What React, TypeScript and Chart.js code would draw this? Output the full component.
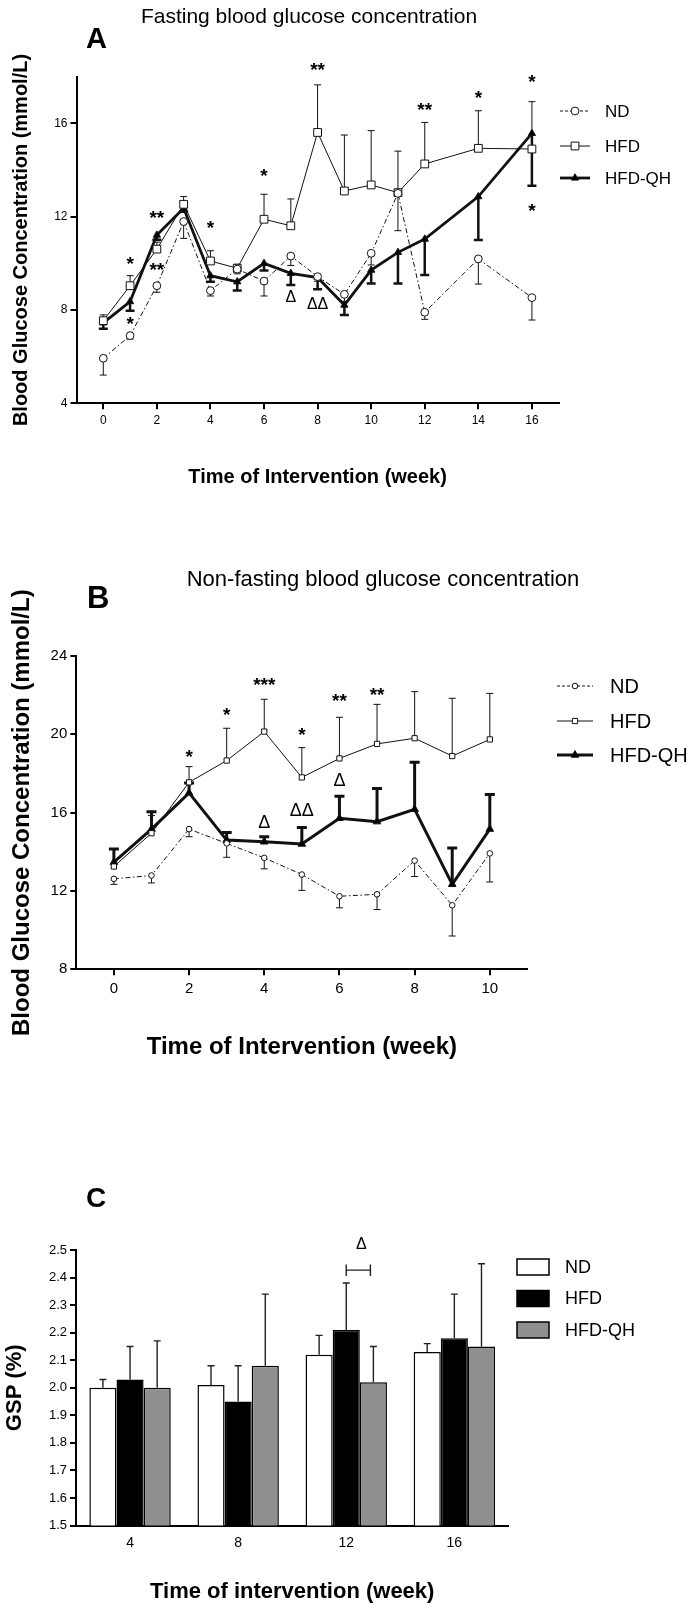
import React, { useEffect, useRef } from 'react';
import { Chart, registerables } from 'chart.js';

Chart.register(...registerables);

const FONT = "'Liberation Sans', Arial, Helvetica, sans-serif";

// ---------------- Panel A: fasting blood glucose ----------------
const A_WEEKS = [0, 1, 2, 3, 4, 5, 6, 7, 8, 9, 10, 11, 12, 14, 16];
const A_ND = [5.93, 6.9, 9.04, 11.79, 8.83, 9.75, 9.24, 10.31, 9.43, 8.67, 10.43, 13.0, 7.9, 10.19, 8.53];
const A_ND_ERR = [0.72, 0.15, 0.28, 0.72, 0.23, 0.2, 0.64, 0.4, 0.2, 0.3, 0.5, 1.6, 0.3, 1.08, 0.96];
const A_HFD = [7.54, 9.04, 10.61, 12.53, 10.1, 9.79, 11.89, 11.61, 15.61, 13.1, 13.36, 13.03, 14.26, 14.93, 14.9];
const A_HFD_ERR = [0.25, 0.43, 0.3, 0.33, 0.44, 0.17, 1.07, 1.15, 2.04, 2.4, 2.33, 1.78, 1.78, 1.61, 2.03];
const A_QH = [7.45, 8.36, 11.21, 12.36, 9.47, 9.21, 10.0, 9.57, 9.39, 8.21, 9.71, 10.47, 11.04, 12.86, 15.57];
const A_QH_ERR = [0.25, 0.39, 0.2, 0.15, 0.26, 0.38, 0.31, 0.5, 0.5, 0.42, 0.57, 1.33, 1.54, 1.86, 2.24];
const A_X_TICKS = [0, 2, 4, 6, 8, 10, 12, 14, 16];
const A_Y_TICKS = [4, 8, 12, 16];
const A_MARKS = [
  { x: 1, y: 10.18, t: '*' }, { x: 1, y: 7.61, t: '*' },
  { x: 2, y: 12.16, t: '**' }, { x: 2, y: 9.93, t: '**' },
  { x: 4, y: 11.74, t: '*' }, { x: 6, y: 13.93, t: '*' },
  { x: 8, y: 18.5, t: '**' }, { x: 12, y: 16.78, t: '**' },
  { x: 14, y: 17.31, t: '*' }, { x: 16, y: 17.97, t: '*' }, { x: 16, y: 12.43, t: '*' },
  { x: 7, y: 8.57, t: 'Δ' }, { x: 8, y: 8.3, t: 'ΔΔ' },
];

// ---------------- Panel B: non-fasting blood glucose ----------------
const B_WEEKS = [0, 1, 2, 3, 4, 5, 6, 7, 8, 9, 10];
const B_ND = [12.62, 12.79, 15.16, 14.43, 13.69, 12.84, 11.73, 11.83, 13.55, 11.27, 13.92];
const B_ND_ERR = [0.28, 0.38, 0.39, 0.71, 0.56, 0.81, 0.59, 0.78, 0.81, 1.57, 1.46];
const B_HFD = [13.25, 14.95, 17.55, 18.66, 20.14, 17.8, 18.77, 19.51, 19.8, 18.89, 19.74];
const B_HFD_ERR = [0.89, 0.9, 0.8, 1.65, 1.65, 1.52, 2.1, 2.02, 2.38, 2.95, 2.35];
const B_QH = [13.47, 15.16, 17.01, 14.6, 14.51, 14.4, 15.71, 15.54, 16.17, 12.34, 15.16];
const B_QH_ERR = [0.67, 0.89, 0.5, 0.39, 0.26, 0.84, 1.13, 1.69, 2.4, 1.85, 1.77];
const B_X_TICKS = [0, 2, 4, 6, 8, 10];
const B_Y_TICKS = [8, 12, 16, 20, 24];
const B_MARKS = [
  { x: 2, y: 19.11, t: '*' }, { x: 3, y: 21.24, t: '*' }, { x: 4, y: 22.77, t: '***' },
  { x: 5, y: 20.22, t: '*' }, { x: 6, y: 21.96, t: '**' }, { x: 7, y: 22.26, t: '**' },
  { x: 4, y: 15.54, t: 'Δ' }, { x: 5, y: 16.17, t: 'ΔΔ' }, { x: 6, y: 17.67, t: 'Δ' },
];

// ---------------- Panel C: GSP ----------------
const C_CATS = ['4', '8', '12', '16'];
const C_ND = [2.0, 2.01, 2.12, 2.13];
const C_ND_ERR = [0.03, 0.07, 0.07, 0.03];
const C_HFD = [2.03, 1.95, 2.21, 2.18];
const C_HFD_ERR = [0.12, 0.13, 0.17, 0.16];
const C_QH = [2.0, 2.08, 2.02, 2.15];
const C_QH_ERR = [0.17, 0.26, 0.13, 0.3];
const C_Y_TICKS = [1.5, 1.6, 1.7, 1.8, 1.9, 2.0, 2.1, 2.2, 2.3, 2.4, 2.5];
const C_BRACKET = { cat: 2, y: 2.427, deltaY: 2.524 };

const W = 692;
const INK = '#111';

function font(size: number, bold = false) {
  return `${bold ? 'bold ' : ''}${size}px ${FONT}`;
}

function drawMarker(ctx: CanvasRenderingContext2D, kind: string, x: number, y: number, r: number, fill: string) {
  ctx.save();
  ctx.setLineDash([]);
  ctx.beginPath();
  if (kind === 'circle') ctx.arc(x, y, r, 0, Math.PI * 2);
  else if (kind === 'rect') {
    const s = r * Math.SQRT1_2;
    ctx.rect(x - s, y - s, 2 * s, 2 * s);
  } else {
    let a = 0;
    ctx.moveTo(x + Math.sin(a) * r, y - Math.cos(a) * r);
    a += (2 * Math.PI) / 3;
    ctx.lineTo(x + Math.sin(a) * r, y - Math.cos(a) * r);
    a += (2 * Math.PI) / 3;
    ctx.lineTo(x + Math.sin(a) * r, y - Math.cos(a) * r);
    ctx.closePath();
  }
  ctx.fillStyle = fill;
  ctx.fill();
  ctx.lineWidth = 1;
  ctx.strokeStyle = INK;
  ctx.stroke();
  ctx.restore();
}

function drawMarkText(ctx: CanvasRenderingContext2D, t: string, x: number, y: number, starSize: number, deltaSize: number) {
  ctx.save();
  ctx.fillStyle = '#000';
  ctx.textAlign = 'center';
  ctx.textBaseline = 'alphabetic';
  if (t.includes('*')) {
    ctx.font = font(starSize, true);
    ctx.fillText(t, x, y + 0.57 * starSize);
  } else {
    ctx.font = font(deltaSize);
    ctx.fillText(t, x, y + 0.36 * deltaSize);
  }
  ctx.restore();
}

type SeriesSpec = {
  label: string; values: number[]; errs: number[]; dir: number;
  lineWidth: number; dash: number[]; point: string; radius: number; fill: string;
  errWidth: number; cap: number;
};

type LineSpec = {
  height: number; area: { left: number; right: number; top: number; bottom: number };
  xAxisH: number; weeks: number[]; xMin: number; xMax: number; xTicks: number[];
  yMin: number; yMax: number; yTicks: number[];
  series: SeriesSpec[];
  xTickSize: number; xTickPad: number; yTickSize: number;
  xTitleSize: number; xTitlePadB: number; yTitleSize: number; yTitlePadT: number;
  title: { text: string; x: number; y: number; size: number };
  panel: { text: string; x: number; y: number; size: number };
  marks: { x: number; y: number; t: string }[];
  starSize: number; deltaSize: number;
  legend: { x1: number; x2: number; textX: number; rows: number[]; size: number };
};

function lineConfig(p: LineSpec): any {
  const datasets = p.series.map((s) => ({
    label: s.label,
    data: p.weeks.map((w, i) => ({ x: w, y: s.values[i] })),
    borderColor: INK,
    borderWidth: s.lineWidth,
    borderDash: s.dash,
    pointStyle: s.point,
    pointRadius: s.radius,
    pointBackgroundColor: s.fill,
    pointBorderColor: INK,
    pointBorderWidth: 1,
    tension: 0,
    fill: false,
  }));

  const plugin = {
    id: 'lineExtras',
    beforeDatasetsDraw(chart: any) {
      const ctx = chart.ctx as CanvasRenderingContext2D;
      const xs = chart.scales.x;
      const ys = chart.scales.y;
      p.series.forEach((s) => {
        ctx.save();
        ctx.strokeStyle = INK;
        ctx.lineWidth = s.errWidth;
        ctx.setLineDash([]);
        p.weeks.forEach((w, i) => {
          const e = s.errs[i];
          if (!e) return;
          const x = xs.getPixelForValue(w);
          const y0 = ys.getPixelForValue(s.values[i]);
          const y1 = ys.getPixelForValue(s.values[i] + s.dir * e);
          ctx.beginPath();
          ctx.moveTo(x, y0);
          ctx.lineTo(x, y1);
          ctx.moveTo(x - s.cap / 2, y1);
          ctx.lineTo(x + s.cap / 2, y1);
          ctx.stroke();
        });
        ctx.restore();
      });
    },
    afterDraw(chart: any) {
      const ctx = chart.ctx as CanvasRenderingContext2D;
      const xs = chart.scales.x;
      const ys = chart.scales.y;
      p.marks.forEach((m) => {
        drawMarkText(ctx, m.t, xs.getPixelForValue(m.x), ys.getPixelForValue(m.y), p.starSize, p.deltaSize);
      });
      // titles
      ctx.save();
      ctx.fillStyle = '#000';
      ctx.textBaseline = 'alphabetic';
      ctx.textAlign = 'center';
      ctx.font = font(p.title.size);
      ctx.fillText(p.title.text, p.title.x, p.title.y);
      ctx.textAlign = 'left';
      ctx.font = font(p.panel.size, true);
      ctx.fillText(p.panel.text, p.panel.x, p.panel.y);
      ctx.restore();
      // legend
      p.series.forEach((s, i) => {
        const y = p.legend.rows[i];
        ctx.save();
        ctx.strokeStyle = INK;
        ctx.lineWidth = s.lineWidth;
        ctx.setLineDash(s.dash.length ? [3, 2] : []);
        ctx.beginPath();
        ctx.moveTo(p.legend.x1, y);
        ctx.lineTo(p.legend.x2, y);
        ctx.stroke();
        ctx.restore();
        drawMarker(ctx, s.point, (p.legend.x1 + p.legend.x2) / 2, y, s.radius, s.fill);
        ctx.save();
        ctx.fillStyle = '#000';
        ctx.font = font(p.legend.size);
        ctx.textAlign = 'left';
        ctx.textBaseline = 'middle';
        ctx.fillText(s.label, p.legend.textX, y + 1);
        ctx.restore();
      });
    },
  };

  const axisCommon = {
    grid: { display: true, drawOnChartArea: false, drawTicks: true, tickLength: 6, color: '#000', lineWidth: 2 },
    border: { display: true, color: '#000', width: 2 },
  };

  return {
    type: 'line',
    data: { datasets },
    plugins: [plugin],
    options: {
      responsive: false,
      animation: false,
      devicePixelRatio: 1,
      events: [],
      layout: {
        padding: {
          left: 0,
          right: W - p.area.right,
          top: p.area.top,
          bottom: p.height - p.area.bottom - p.xAxisH,
        },
      },
      plugins: { legend: { display: false }, tooltip: { enabled: false } },
      scales: {
        x: {
          type: 'linear',
          min: p.xMin,
          max: p.xMax,
          afterBuildTicks: (s: any) => { s.ticks = p.xTicks.map((v) => ({ value: v })); },
          afterFit: (s: any) => { s.height = p.xAxisH; },
          ...axisCommon,
          ticks: {
            color: '#000', autoSkip: false, maxRotation: 0,
            font: { family: FONT, size: p.xTickSize, lineHeight: 1.2 },
            padding: p.xTickPad,
            callback: (v: any) => String(v),
          },
          title: {
            display: true, text: 'Time of Intervention (week)', color: '#000',
            font: { family: FONT, size: p.xTitleSize, weight: 'bold', lineHeight: 1.2 },
            padding: { top: 0, bottom: p.xTitlePadB },
          },
        },
        y: {
          type: 'linear',
          min: p.yMin,
          max: p.yMax,
          afterBuildTicks: (s: any) => { s.ticks = p.yTicks.map((v) => ({ value: v })); },
          afterFit: (s: any) => { s.width = p.area.left; },
          ...axisCommon,
          ticks: {
            color: '#000', autoSkip: false,
            font: { family: FONT, size: p.yTickSize, lineHeight: 1.2 },
            padding: 3,
            callback: (v: any) => String(v),
          },
          title: {
            display: true, text: 'Blood Glucose Concentration (mmol/L)', color: '#000',
            font: { family: FONT, size: p.yTitleSize, weight: 'bold', lineHeight: 1.2 },
            padding: { top: p.yTitlePadT, bottom: 0 },
          },
        },
      },
    },
  };
}

function seriesA(): SeriesSpec[] {
  return [
    { label: 'ND', values: A_ND, errs: A_ND_ERR, dir: -1, lineWidth: 1, dash: [5, 2.5, 1.5, 2.5], point: 'circle', radius: 3.9, fill: '#fff', errWidth: 1, cap: 7 },
    { label: 'HFD', values: A_HFD, errs: A_HFD_ERR, dir: 1, lineWidth: 1, dash: [], point: 'rect', radius: 5.5, fill: '#fff', errWidth: 1, cap: 7 },
    { label: 'HFD-QH', values: A_QH, errs: A_QH_ERR, dir: -1, lineWidth: 2.8, dash: [], point: 'triangle', radius: 4.2, fill: '#000', errWidth: 2.5, cap: 9 },
  ];
}

function seriesB(): SeriesSpec[] {
  return [
    { label: 'ND', values: B_ND, errs: B_ND_ERR, dir: -1, lineWidth: 1, dash: [5, 2.5, 1.5, 2.5], point: 'circle', radius: 2.8, fill: '#fff', errWidth: 1, cap: 7 },
    { label: 'HFD', values: B_HFD, errs: B_HFD_ERR, dir: 1, lineWidth: 1, dash: [], point: 'rect', radius: 3.7, fill: '#fff', errWidth: 1, cap: 7 },
    { label: 'HFD-QH', values: B_QH, errs: B_QH_ERR, dir: 1, lineWidth: 3, dash: [], point: 'triangle', radius: 4.4, fill: '#000', errWidth: 3, cap: 10 },
  ];
}

function configA() {
  return lineConfig({
    height: 500,
    area: { left: 76.5, right: 558.7, top: 76.7, bottom: 403.3 },
    xAxisH: 90, weeks: A_WEEKS, xMin: -1, xMax: 17, xTicks: A_X_TICKS,
    yMin: 4, yMax: 18, yTicks: A_Y_TICKS,
    series: seriesA(),
    xTickSize: 12, xTickPad: 4.5, yTickSize: 12,
    xTitleSize: 20, xTitlePadB: 4.3, yTitleSize: 20, yTitlePadT: 9,
    title: { text: 'Fasting blood glucose concentration', x: 309, y: 23, size: 21 },
    panel: { text: 'A', x: 86, y: 48, size: 29 },
    marks: A_MARKS, starSize: 19, deltaSize: 16,
    legend: { x1: 560, x2: 590, textX: 605, rows: [111, 146, 178], size: 17 },
  });
}

function configB() {
  return lineConfig({
    height: 570,
    area: { left: 76.3, right: 527.4, top: 156, bottom: 469.3 },
    xAxisH: 96, weeks: B_WEEKS, xMin: -1, xMax: 11, xTicks: B_X_TICKS,
    yMin: 8, yMax: 24, yTicks: B_Y_TICKS,
    series: seriesB(),
    xTickSize: 15, xTickPad: 5, yTickSize: 15,
    xTitleSize: 24, xTitlePadB: 3.9, yTitleSize: 24, yTitlePadT: 8,
    title: { text: 'Non-fasting blood glucose concentration', x: 383, y: 86, size: 22 },
    panel: { text: 'B', x: 87, y: 108, size: 31 },
    marks: B_MARKS, starSize: 19, deltaSize: 18,
    legend: { x1: 557, x2: 593, textX: 610, rows: [186, 221, 255], size: 20 },
  });
}

function configC(): any {
  const plugin = {
    id: 'barExtras',
    afterDatasetsDraw(chart: any) {
      const ctx = chart.ctx as CanvasRenderingContext2D;
      const ys = chart.scales.y;
      const errSets = [C_ND_ERR, C_HFD_ERR, C_QH_ERR];
      const valSets = [C_ND, C_HFD, C_QH];
      ctx.save();
      ctx.strokeStyle = '#222';
      ctx.lineWidth = 1.4;
      errSets.forEach((errs, di) => {
        const meta = chart.getDatasetMeta(di);
        meta.data.forEach((bar: any, i: number) => {
          const x = bar.x;
          const y0 = ys.getPixelForValue(valSets[di][i]);
          const y1 = ys.getPixelForValue(valSets[di][i] + errs[i]);
          ctx.beginPath();
          ctx.moveTo(x, y0);
          ctx.lineTo(x, y1);
          ctx.moveTo(x - 3.5, y1);
          ctx.lineTo(x + 3.5, y1);
          ctx.stroke();
        });
      });
      // bracket
      const xa = chart.getDatasetMeta(1).data[C_BRACKET.cat].x;
      const xb = chart.getDatasetMeta(2).data[C_BRACKET.cat].x - 3;
      const yb = ys.getPixelForValue(C_BRACKET.y);
      ctx.beginPath();
      ctx.moveTo(xa, yb); ctx.lineTo(xb, yb);
      ctx.moveTo(xa, yb - 5.5); ctx.lineTo(xa, yb + 6);
      ctx.moveTo(xb, yb - 5.5); ctx.lineTo(xb, yb + 6);
      ctx.stroke();
      ctx.restore();
      drawMarkText(ctx, 'Δ', (xa + xb) / 2 + 3, ys.getPixelForValue(C_BRACKET.deltaY), 18, 16);
    },
    afterDraw(chart: any) {
      const ctx = chart.ctx as CanvasRenderingContext2D;
      ctx.save();
      ctx.fillStyle = '#000';
      ctx.textAlign = 'left';
      ctx.textBaseline = 'alphabetic';
      ctx.font = font(28, true);
      ctx.fillText('C', 86, 137);
      const rows = [197, 228.5, 260];
      const fills = ['#fff', '#000', '#8f8f8f'];
      chart.data.datasets.forEach((ds: any, i: number) => {
        ctx.fillStyle = fills[i];
        ctx.fillRect(517, rows[i] - 8, 32, 16);
        ctx.strokeStyle = '#000';
        ctx.lineWidth = 1.5;
        ctx.strokeRect(517, rows[i] - 8, 32, 16);
        ctx.fillStyle = '#000';
        ctx.font = font(18);
        ctx.textBaseline = 'middle';
        ctx.fillText(ds.label, 565, rows[i] + 1);
      });
      ctx.restore();
    },
  };

  const barCommon = { borderColor: '#000', borderWidth: 1.5, borderSkipped: 'start', categoryPercentage: 0.753, barPercentage: 1.0 };

  return {
    type: 'bar',
    data: {
      labels: C_CATS,
      datasets: [
        { label: 'ND', data: C_ND, backgroundColor: '#fff', ...barCommon },
        { label: 'HFD', data: C_HFD, backgroundColor: '#000', ...barCommon },
        { label: 'HFD-QH', data: C_QH, backgroundColor: '#8f8f8f', ...barCommon },
      ],
    },
    plugins: [plugin],
    options: {
      responsive: false,
      animation: false,
      devicePixelRatio: 1,
      events: [],
      layout: { padding: { left: 0, right: W - 508.4, top: 180, bottom: 541 - 455.5 - 84 } },
      plugins: { legend: { display: false }, tooltip: { enabled: false } },
      scales: {
        x: {
          type: 'category',
          afterFit: (s: any) => { s.height = 84; },
          grid: { display: true, drawOnChartArea: false, drawTicks: false, offset: false, color: '#000', lineWidth: 2 },
          border: { display: true, color: '#000', width: 2 },
          ticks: { color: '#000', font: { family: FONT, size: 14, lineHeight: 1.2 }, padding: 9, maxRotation: 0, autoSkip: false },
          title: {
            display: true, text: 'Time of intervention (week)', color: '#000',
            font: { family: FONT, size: 22, weight: 'bold', lineHeight: 1.2 },
            padding: { top: 0, bottom: 4.3 },
          },
        },
        y: {
          type: 'linear',
          min: 1.5,
          max: 2.5,
          afterBuildTicks: (s: any) => { s.ticks = C_Y_TICKS.map((v) => ({ value: v })); },
          afterFit: (s: any) => { s.width = 76; },
          grid: { display: true, drawOnChartArea: false, drawTicks: true, tickLength: 6, color: '#000', lineWidth: 2 },
          border: { display: true, color: '#000', width: 2 },
          ticks: { color: '#000', autoSkip: false, font: { family: FONT, size: 13, lineHeight: 1.2 }, padding: 3, callback: (v: any) => Number(v).toFixed(1) },
          title: {
            display: true, text: 'GSP (%)', color: '#000',
            font: { family: FONT, size: 22, weight: 'bold', lineHeight: 1.2 },
            padding: { top: 1.8, bottom: 0 },
          },
        },
      },
    },
  };
}

export default function App() {
  const aRef = useRef<HTMLCanvasElement>(null);
  const bRef = useRef<HTMLCanvasElement>(null);
  const cRef = useRef<HTMLCanvasElement>(null);

  useEffect(() => {
    const charts = [
      new Chart(aRef.current as HTMLCanvasElement, configA()),
      new Chart(bRef.current as HTMLCanvasElement, configB()),
      new Chart(cRef.current as HTMLCanvasElement, configC()),
    ];
    return () => charts.forEach((c) => c.destroy());
  }, []);

  const cs = (top: number, h: number): React.CSSProperties => ({ position: 'absolute', left: 0, top, width: W, height: h, display: 'block' });

  return (
    <div style={{ position: 'absolute', left: 0, top: 0, width: W, height: 1611, background: '#fff', overflow: 'hidden' }}>
      <canvas ref={aRef} width={W} height={500} style={cs(0, 500)} />
      <canvas ref={bRef} width={W} height={570} style={cs(500, 570)} />
      <canvas ref={cRef} width={W} height={541} style={cs(1070, 541)} />
    </div>
  );
}
